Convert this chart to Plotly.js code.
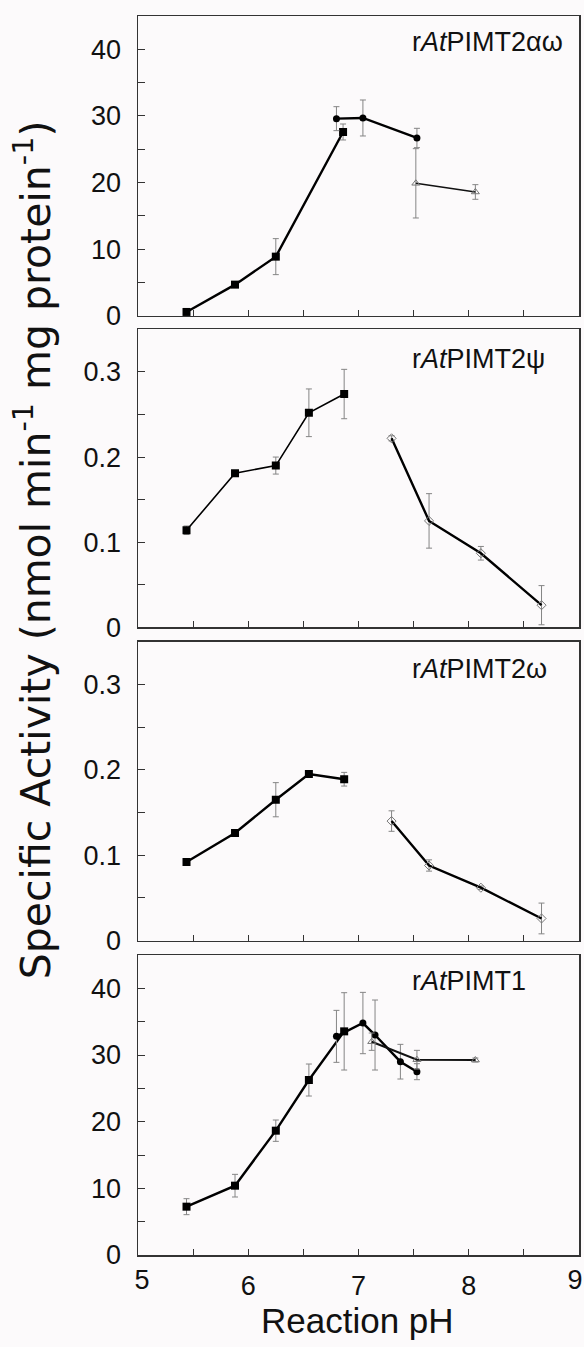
<!DOCTYPE html>
<html>
<head>
<meta charset="utf-8">
<script src="https://cdn.plot.ly/plotly-3.0.1.min.js"></script>
<style>html,body{margin:0;padding:0;background:#fcfafb;}#chart{width:584px;height:1347px;}</style>
</head>
<body>
<div id="chart"></div>
<script>
// ---- Data ----
// Panel 1: rAtPIMT2αω
const p1SqX = [5.44, 5.88, 6.25, 6.86];
const p1SqY = [0.6, 4.7, 8.9, 27.6];
const p1SqE = [0.3, 0.3, 2.7, 1.2];
const p1CiX = [6.80, 7.04, 7.53];
const p1CiY = [29.6, 29.7, 26.7];
const p1CiE = [1.8, 2.7, 1.45];
const p1TrX = [7.52, 8.06];
const p1TrY = [19.9, 18.6];
const p1TrE = [5.2, 1.1];
// Panel 2: rAtPIMT2ψ
const p2SqX = [5.44, 5.88, 6.25, 6.55, 6.87];
const p2SqY = [0.114, 0.181, 0.190, 0.252, 0.274];
const p2SqE = [0.005, 0.002, 0.010, 0.028, 0.029];
const p2DiX = [7.30, 7.64, 8.11, 8.66];
const p2DiY = [0.222, 0.125, 0.087, 0.026];
const p2DiE = [0.003, 0.032, 0.008, 0.023];
// Panel 3: rAtPIMT2ω
const p3SqX = [5.44, 5.88, 6.25, 6.55, 6.87];
const p3SqY = [0.092, 0.126, 0.165, 0.195, 0.189];
const p3SqE = [0.002, 0.002, 0.020, 0.004, 0.008];
const p3DiX = [7.30, 7.64, 8.11, 8.66];
const p3DiY = [0.140, 0.088, 0.062, 0.026];
const p3DiE = [0.012, 0.0066, 0.002, 0.018];
// Panel 4: rAtPIMT1
const p4SqX = [5.44, 5.88, 6.25, 6.55, 6.87];
const p4SqY = [7.25, 10.4, 18.65, 26.25, 33.55];
const p4SqE = [1.2, 1.7, 1.6, 2.4, 5.8];
const p4CiX = [6.80, 7.04, 7.15, 7.38, 7.53];
const p4CiY = [32.8, 34.8, 33.0, 29.0, 27.5];
const p4CiE = [3.9, 4.6, 5.25, 2.6, 1.2];
const p4TrX = [7.12, 7.53, 8.06];
const p4TrY = [32.0, 29.3, 29.25];
const p4TrE = [1.3, 1.4, 0.3];

const panelLabels = ['r<i>At</i>PIMT2αω', 'r<i>At</i>PIMT2ψ', 'r<i>At</i>PIMT2ω', 'r<i>At</i>PIMT1'];
const xTickInner = [6, 7, 8];
const xTickLeft = [5];
const xTickRight = [9];
const yTitle = 'Specific Activity (nmol min<sup>-1</sup> mg protein<sup>-1</sup>)';
const xTitle = 'Reaction pH';

// ---- Styling helpers ----
const FONT = 'Liberation Sans, Arial, Helvetica, sans-serif';
const ERRC = '#858585';
function err(arr) { return {type: 'data', array: arr, visible: true, color: ERRC, thickness: 1, width: 3}; }
function sq(x, y, e, ax, lw) {
  return {x: x, y: y, error_y: err(e), xaxis: ax[0], yaxis: ax[1], mode: 'lines+markers',
    line: {color: '#000', width: lw}, marker: {symbol: 'square', size: 8, color: '#000'}, showlegend: false};
}
function ci(x, y, e, ax, lw) {
  return {x: x, y: y, error_y: err(e), xaxis: ax[0], yaxis: ax[1], mode: 'lines+markers',
    line: {color: '#000', width: lw}, marker: {symbol: 'circle', size: 7, color: '#000'}, showlegend: false};
}
function tr(x, y, e, ax, lw) {
  return {x: x, y: y, error_y: err(e), xaxis: ax[0], yaxis: ax[1], mode: 'lines+markers',
    line: {color: '#111', width: lw}, marker: {symbol: 'triangle-up-open', size: 7, color: '#777', line: {width: 1, color: '#777'}}, showlegend: false};
}
function di(x, y, e, ax, lw) {
  return {x: x, y: y, error_y: err(e), xaxis: ax[0], yaxis: ax[1], mode: 'lines+markers',
    line: {color: '#000', width: lw}, marker: {symbol: 'diamond-open', size: 7, color: '#777', line: {width: 1, color: '#777'}}, showlegend: false};
}

const A1 = ['x4', 'y4'], A2 = ['x3', 'y3'], A3 = ['x2', 'y2'], A4 = ['x', 'y'];
const data = [
  sq(p1SqX, p1SqY, p1SqE, A1, 2.4), ci(p1CiX, p1CiY, p1CiE, A1, 2.4), tr(p1TrX, p1TrY, p1TrE, A1, 1.6),
  sq(p2SqX, p2SqY, p2SqE, A2, 1.6), di(p2DiX, p2DiY, p2DiE, A2, 2.4),
  sq(p3SqX, p3SqY, p3SqE, A3, 2.4), di(p3DiX, p3DiY, p3DiE, A3, 2.4),
  sq(p4SqX, p4SqY, p4SqE, A4, 2.4), ci(p4CiX, p4CiY, p4CiE, A4, 2.4), tr(p4TrX, p4TrY, p4TrE, A4, 2.0),
  // empty traces so the edge-label overlay axes are drawn
  {x: [], y: [], xaxis: 'x5', yaxis: 'y', mode: 'markers', showlegend: false},
  {x: [], y: [], xaxis: 'x6', yaxis: 'y', mode: 'markers', showlegend: false}
];

function xax(anchor, labels) {
  return {range: [5, 9], anchor: anchor, showline: true, mirror: true, linecolor: '#333', linewidth: 1.5,
    ticks: 'inside', ticklen: 6, tickcolor: '#333', tickvals: xTickInner, showticklabels: labels,
    minor: {dtick: 0.5, ticks: 'inside', ticklen: 6, tickcolor: '#333'},
    showgrid: false, zeroline: false, ticklabelstandoff: 6,
    tickfont: {family: FONT, size: 27, color: '#111'}, fixedrange: true};
}
function xedge(vals, shift) {
  return {range: [5, 9], anchor: 'y', overlaying: 'x', side: 'bottom', showline: false, ticks: '',
    tickvals: vals, ticklabelshift: shift, showgrid: false, zeroline: false, ticklabelstandoff: 6,
    tickfont: {family: FONT, size: 27, color: '#111'}, fixedrange: true};
}
function yax(anchor, domain, range, dtick) {
  return {domain: domain, range: range, anchor: anchor, showline: true, mirror: true, linecolor: '#333', linewidth: 1.5,
    ticks: 'inside', ticklen: 7, tickcolor: '#333', dtick: dtick, tick0: 0,
    minor: {dtick: dtick / 2, ticks: 'inside', ticklen: 7, tickcolor: '#333'},
    showgrid: false, zeroline: false, ticklabelstandoff: 10,
    tickfont: {family: FONT, size: 27, color: '#111'}, fixedrange: true};
}

const layout = {
  width: 584, height: 1347,
  margin: {l: 138, r: 5, t: 16, b: 92},
  paper_bgcolor: '#fcfafb', plot_bgcolor: '#fcfafb',
  font: {family: FONT, color: '#111'},
  xaxis: xax('y', true),
  xaxis2: xax('y2', false),
  xaxis3: xax('y3', false),
  xaxis4: xax('y4', false),
  xaxis5: xedge(xTickLeft, 4),
  xaxis6: xedge(xTickRight, -4),
  yaxis: yax('x', [0, 0.2421], [0, 45], 10),
  yaxis2: yax('x2', [0.2537, 0.4950], [0, 0.35], 0.1),
  yaxis3: yax('x3', [0.5066, 0.7471], [0, 0.35], 0.1),
  yaxis4: yax('x4', [0.7579, 1], [0, 45], 10),
  annotations: [
    {text: panelLabels[0], xref: 'paper', yref: 'paper', x: 0.617, y: 0.979, xanchor: 'left', yanchor: 'middle', showarrow: false, font: {family: FONT, size: 27, color: '#111'}},
    {text: panelLabels[1], xref: 'paper', yref: 'paper', x: 0.617, y: 0.7234, xanchor: 'left', yanchor: 'middle', showarrow: false, font: {family: FONT, size: 27, color: '#111'}},
    {text: panelLabels[2], xref: 'paper', yref: 'paper', x: 0.617, y: 0.4732, xanchor: 'left', yanchor: 'middle', showarrow: false, font: {family: FONT, size: 27, color: '#111'}},
    {text: panelLabels[3], xref: 'paper', yref: 'paper', x: 0.617, y: 0.2213, xanchor: 'left', yanchor: 'middle', showarrow: false, font: {family: FONT, size: 27, color: '#111'}},
    {text: yTitle, xref: 'paper', yref: 'paper', x: -0.238, y: 0.5688, xanchor: 'center', yanchor: 'middle', textangle: -90, showarrow: false, font: {family: 'DejaVu Sans, sans-serif', size: 41, color: '#111'}},
    {text: xTitle, xref: 'paper', yref: 'paper', x: 0.4977, y: -0.0355, xanchor: 'center', yanchor: 'top', showarrow: false, font: {family: FONT, size: 35, color: '#111'}}
  ]
};

Plotly.newPlot('chart', data, layout, {displayModeBar: false, staticPlot: true});
</script>
</body>
</html>
